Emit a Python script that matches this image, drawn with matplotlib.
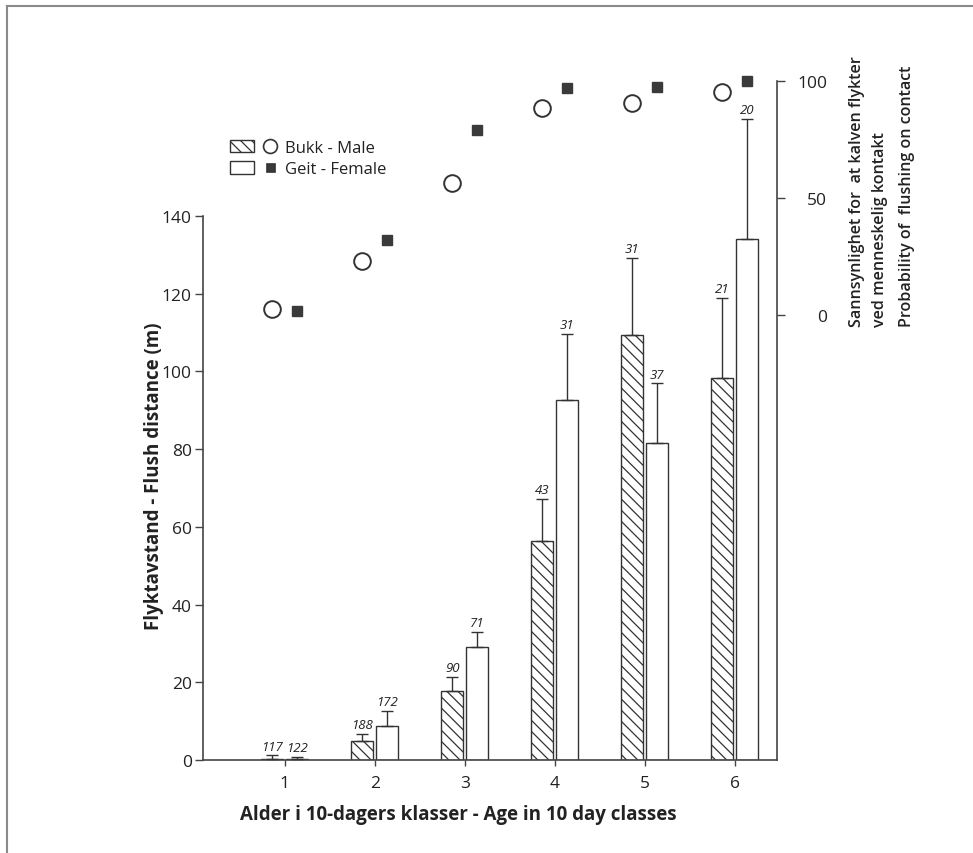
import matplotlib
matplotlib.use("Agg")
import matplotlib.pyplot as plt
import numpy as np
from matplotlib.lines import Line2D
from matplotlib.patches import Rectangle
from matplotlib.legend_handler import HandlerBase

plt.rcParams['font.family'] = ['Open Sans', 'DejaVu Sans']
plt.rcParams['hatch.linewidth'] = 0.9
plt.rcParams['hatch.color'] = '#333333'

# data
age_class = [1, 2, 3, 4, 5, 6]
flush_male = [0.3, 4.9, 17.7, 56.3, 109.4, 98.3]
flush_female = [0.2, 8.8, 29.0, 92.6, 81.5, 134.0]
se_male = [0.9, 1.8, 3.6, 10.9, 19.8, 20.6]
se_female = [0.6, 3.9, 4.0, 17.0, 15.4, 30.9]
n_male = [117, 188, 90, 43, 31, 21]
n_female = [122, 172, 71, 31, 37, 20]
prob_male = [2.6, 22.9, 56.6, 88.5, 90.4, 95.1]
prob_female = [1.6, 32.0, 79.0, 97.1, 97.5, 99.9]

ink = '#333333'
W, H = 973, 854

fig = plt.figure(figsize=(W / 100, H / 100), dpi=100)
ax = fig.add_axes([203 / W, 1 - 761 / H, (777 - 203) / W, (761 - 82) / H])

x = np.array(age_class, dtype=float)
bw = 0.245
xm = x - 0.14
xf = x + 0.135

ax.bar(xm, flush_male, width=bw, facecolor='white', edgecolor=ink,
       hatch='\\\\\\', linewidth=1, zorder=2)
ax.bar(xf, flush_female, width=bw, facecolor='white', edgecolor=ink,
       linewidth=1, zorder=2)

ax.errorbar(xm, flush_male, yerr=[np.zeros(6), se_male], fmt='none',
            ecolor=ink, elinewidth=1, capsize=4, capthick=1, zorder=3)
ax.errorbar(xf, flush_female, yerr=[np.zeros(6), se_female], fmt='none',
            ecolor=ink, elinewidth=1, capsize=4, capthick=1, zorder=3)

# sample sizes above the error bars
for xi, v, e, n in zip(xm, flush_male, se_male, n_male):
    ax.annotate(str(n), (xi, v + e), xytext=(0, 2), textcoords='offset points',
                ha='center', va='bottom', fontsize=9.5, style='italic',
                color='#222222')
for xi, v, e, n in zip(xf, flush_female, se_female, n_female):
    ax.annotate(str(n), (xi, v + e), xytext=(0, 2), textcoords='offset points',
                ha='center', va='bottom', fontsize=9.5, style='italic',
                color='#222222')

ax.set_xlim(0.09, 6.47)
ax.set_ylim(0, 174.7)
ax.set_xticks(age_class)
ax.set_yticks(range(0, 141, 20))
ax.spines['top'].set_visible(False)
ax.spines['right'].set_visible(False)
ax.spines['left'].set_bounds(0, 140)
for s in ['left', 'bottom']:
    ax.spines[s].set_color('#444444')
    ax.spines[s].set_linewidth(1.2)
ax.tick_params(axis='y', direction='out', length=6, width=1, color='#444444',
               labelsize=12.5, labelcolor='#222222', pad=2)
ax.tick_params(axis='x', direction='out', length=4, width=1, color='#444444',
               labelsize=12.5, labelcolor='#222222', pad=7)

# probability of flushing on the right axis
ax2 = ax.twinx()
ax2.plot(xm, prob_male, 'o', ms=12, mfc='white', mec=ink, mew=1.4,
         clip_on=False)
ax2.plot(xf, prob_female, 's', ms=7.5, mfc='#3a3a3a', mec='#3a3a3a',
         clip_on=False)
ax2.set_ylim(-190.2, 100)
ax2.set_yticks([0, 50, 100])
for s in ['top', 'left', 'bottom']:
    ax2.spines[s].set_visible(False)
ax2.spines['right'].set_color('#444444')
ax2.spines['right'].set_linewidth(1.2)
ax2.tick_params(axis='y', direction='out', length=6, width=1, color='#444444',
                labelsize=12.5, labelcolor='#222222', pad=30)
for lab in ax2.get_yticklabels():
    lab.set_horizontalalignment('right')


class PatchMarkerHandler(HandlerBase):
    def create_artists(self, legend, orig_handle, xdescent, ydescent,
                       width, height, fontsize, trans):
        hatch, marker, msize, mfc, xfrac = orig_handle
        r = Rectangle((-xdescent, -ydescent), width * 0.5, height,
                      facecolor='white', edgecolor=ink, hatch=hatch,
                      linewidth=1, transform=trans)
        m = Line2D([-xdescent + width * xfrac], [-ydescent + height / 2],
                   marker=marker, markersize=msize, markerfacecolor=mfc,
                   markeredgecolor=ink, markeredgewidth=1.2, linestyle='none',
                   transform=trans)
        return [r, m]


handles = [('\\\\\\', 'o', 10, 'white', 0.83), (None, 's', 6, '#3a3a3a', 0.85)]
fig.legend(handles, ['Bukk - Male', 'Geit - Female'],
           handler_map={tuple: PatchMarkerHandler()},
           loc='upper left', bbox_to_anchor=(230 / W, 1 - 141 / H),
           frameon=False, fontsize=12, handlelength=2.9, handleheight=0.75,
           handletextpad=0.42, labelspacing=0.32, borderpad=0,
           borderaxespad=0, labelcolor='#222222')

# axis titles
fig.text(154 / W, 1 - 476 / H, 'Flyktavstand - Flush distance (m)',
         rotation=90, ha='center', va='center', fontsize=13.5,
         fontweight='bold', color='#222222')
fig.text(458 / W, 1 - 815 / H,
         'Alder i 10-dagers klasser - Age in 10 day classes',
         ha='center', va='center', fontsize=13.5, fontweight='bold',
         color='#222222')
right_lines = ['Sannsynlighet for  at kalven flykter', 'ved menneskelig kontakt',
               'Probability of  flushing on contact']
for xp, txt in zip([857, 880, 907], right_lines):
    fig.text(xp / W, 1 - 327 / H, txt, rotation=90, ha='center', va='bottom',
             fontsize=11.6, fontweight='semibold', color='#222222')

# frame lines of the original page
fig.add_artist(Line2D([7 / W, 7 / W], [0, 1 - 7 / H], color='#8a8a8a',
                      linewidth=1.5, transform=fig.transFigure))
fig.add_artist(Line2D([7 / W, 1], [1 - 7 / H, 1 - 7 / H], color='#8a8a8a',
                      linewidth=1.5, transform=fig.transFigure))

fig.savefig('out.png', dpi=100)
